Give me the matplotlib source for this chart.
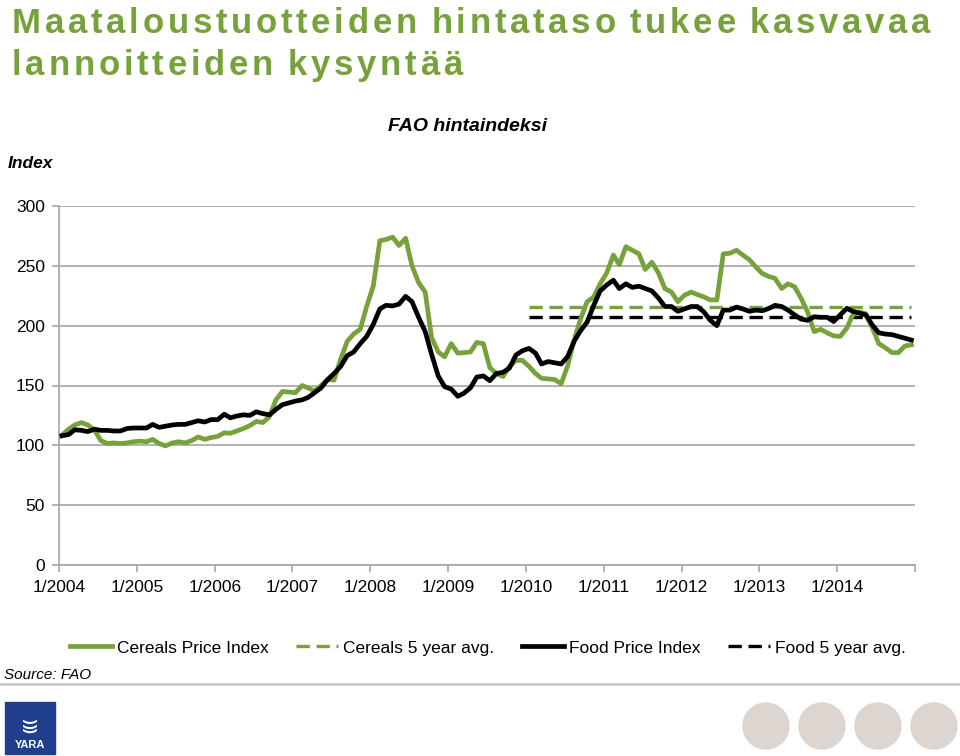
import matplotlib
matplotlib.use("Agg")
import matplotlib.pyplot as plt
from matplotlib.patches import Ellipse, Rectangle
import pandas as pd

# FAO-indeksit kuukausittain 1/2004 - 12/2014 (luettu kuvasta)
cereals = [
    108.5, 113.5, 117, 119, 117, 113, 104, 101.5, 102, 101.5, 102, 103,
    103.5, 103, 105, 101.5, 99.5, 102, 103, 102, 104, 107, 105, 106.5,
    107.5, 110.5, 110, 112, 114, 116.5, 120, 119, 124, 138, 145, 144.5,
    144, 150, 148, 145.5, 150, 155, 154.5, 172, 187, 193, 197, 216,
    233, 271, 272, 274, 267, 273, 250, 236, 228, 190, 178, 174,
    185, 177, 177.5, 178, 186, 185, 165, 160, 157.5, 166, 171, 171,
    166, 160, 156, 155.5, 155, 151.5, 166, 188, 206, 220, 224, 235,
    244, 259, 251, 266, 263, 260, 247, 253, 244, 231, 228, 220,
    225.5, 228, 226, 224, 221.5, 221.5, 260, 260.5, 263, 259, 255, 249,
    243.5, 241, 239.5, 231, 235, 232.5, 223, 211.5, 195, 197, 194, 191.5,
    191, 198, 209, 211.5, 210, 198, 185, 181.5, 177.5, 177.5, 183, 184,
]
food = [
    108, 109, 113, 112.5, 111.5, 113.5, 112.5, 112.5, 112, 112, 114, 114.5,
    114.5, 114.5, 117.5, 115, 116, 117, 117.5, 117.5, 119, 120.5, 119.5, 121.5,
    121.5, 126, 123, 124.5, 125.5, 125, 128, 126.5, 125.5, 130, 134, 135.5,
    137, 138, 140, 144, 148, 155, 160, 166, 175, 178, 185, 191,
    201, 214, 217, 216.5, 218, 224.5, 220, 207, 195, 176, 158, 149,
    147, 141, 143.5, 148, 157, 158, 154, 160, 161, 164.5, 175.5, 179,
    181, 177, 168, 170, 169, 168, 174, 187, 196, 203, 217, 229,
    234, 238, 231, 235, 232, 233, 231, 229, 223, 216, 216, 212,
    214, 216, 216, 211.5, 204.5, 200, 213, 213, 215.5, 214, 212, 213,
    212.5, 214.5, 217, 216, 213, 209, 205.5, 204.5, 207.5, 207, 207, 203.5,
    209, 214.5, 212, 210.5, 209, 200.5, 194, 193, 192.5, 191, 189.5, 188,
]
cereals_avg = 216
food_avg = 207
avg_start = "2010-01"

title_lines = ["Maataloustuotteiden hintataso tukee kasvavaa", "lannoitteiden kysyntää"]

months = pd.date_range("2004-01-01", periods=len(cereals), freq="MS") + pd.Timedelta(days=14)
avg_months = months[months >= pd.Timestamp(avg_start)]
year_ticks = pd.date_range("2004-01-01", "2015-01-01", freq="YS")
tick_labels = [f"1/{d.year}" for d in year_ticks[:-1]] + [""]

green = "#77A23B"
grid_c = "#A6A6A6"

plt.rcParams["font.family"] = ["Liberation Sans", "DejaVu Sans"]

fig = plt.figure(figsize=(9.6, 7.56), dpi=100)
ax = fig.add_axes([59 / 960, 191 / 756, 856 / 960, 359 / 756])

ax.plot(months, cereals, color=green, lw=3.4, label="Cereals Price Index", zorder=3)
ax.plot(avg_months, [cereals_avg] * len(avg_months), color=green, lw=2.4,
        dashes=(4, 2), label="Cereals 5 year avg.", zorder=2)
ax.plot(months, food, color="black", lw=3.4, label="Food Price Index", zorder=4)
ax.plot(avg_months, [food_avg] * len(avg_months), color="black", lw=2.4,
        dashes=(4, 2), label="Food 5 year avg.", zorder=2)

ax.set_ylim(0, 300)
ax.set_yticks(range(0, 301, 50))
ax.set_xlim(year_ticks[0], year_ticks[-1])
ax.set_xticks(year_ticks)
ax.set_xticklabels(tick_labels)
ax.yaxis.grid(True, color=grid_c, lw=1.2)
ax.set_axisbelow(True)
for s in ["top", "right"]:
    ax.spines[s].set_visible(False)
for s in ["left", "bottom"]:
    ax.spines[s].set_color(grid_c)
    ax.spines[s].set_linewidth(1.2)
ax.tick_params(axis="both", colors=grid_c, length=5, width=1.2, direction="out",
               labelcolor="black", labelsize=12.5)
ax.tick_params(axis="y", pad=5)
ax.tick_params(axis="x", pad=6)

# otsikko harvennetulla kirjainvälillä
renderer = fig.canvas.get_renderer()
for line, base in zip(title_lines, [33, 75]):
    x = 12.0
    for ch in line:
        t = fig.text(x / 960, 1 - base / 756, ch, color=green, fontsize=25,
                     fontweight="bold", va="baseline")
        if ch == " ":
            w = 7.0
        else:
            w = t.get_window_extent(renderer).width
        x += w + 3.75

fig.text(468 / 960, 1 - 131 / 756, "FAO hintaindeksi", fontsize=14,
         fontweight="bold", style="italic", ha="center", va="baseline")
fig.text(8 / 960, 1 - 168 / 756, "Index", fontsize=12.5,
         fontweight="bold", style="italic", va="baseline")

h, l = ax.get_legend_handles_labels()
fig.legend(h, l, loc="center", bbox_to_anchor=(488 / 960, 1 - 648 / 756), ncol=4,
           frameon=False, fontsize=12.5, handlelength=2.4, handletextpad=0.3,
           columnspacing=1.6)

fig.text(4 / 960, 1 - 679 / 756, "Source: FAO", fontsize=11, style="italic", va="baseline")
fig.add_artist(plt.Line2D([0, 1], [1 - 684 / 756] * 2, transform=fig.transFigure,
                          color="#C8C8C8", lw=2))

# logo ja koristepallot
fig.add_artist(Rectangle((5 / 960, 1 - 754 / 756), 50 / 960, 52 / 756,
                         transform=fig.transFigure, color="#1F3E8E"))
fig.text(30 / 960, 1 - 748 / 756, "YARA", color="white", fontsize=8,
         fontweight="bold", ha="center", va="baseline")
fig.text(30 / 960, 1 - 730 / 756, "(((", color="white", fontsize=11,
         fontweight="bold", ha="center", va="baseline", rotation=90)
for cx in [766, 822, 878, 934]:
    fig.add_artist(Ellipse((cx / 960, 1 - 726 / 756), 46 / 960, 46 / 756,
                           transform=fig.transFigure, color="#DDD6D0"))

fig.savefig("out.png", dpi=100)
